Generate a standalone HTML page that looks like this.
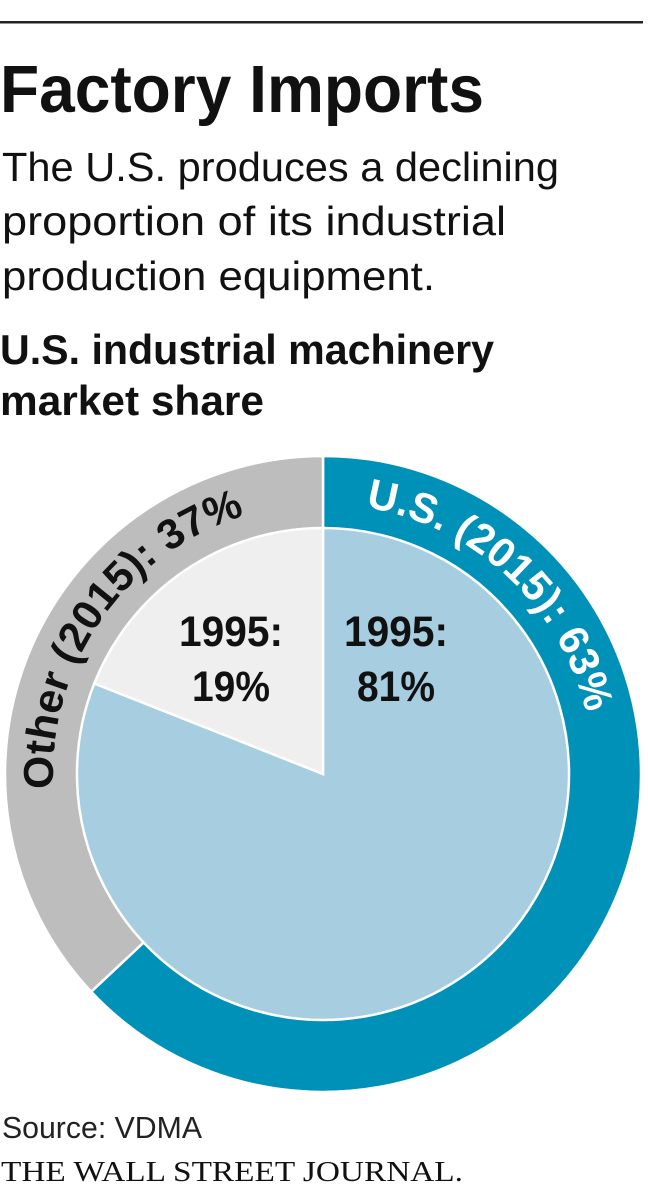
<!DOCTYPE html>
<html><head><meta charset="utf-8"><style>
html,body{margin:0;padding:0;background:#fff;}
svg{display:block;}
text{font-family:"Liberation Sans",sans-serif;}
</style></head><body>
<svg id="chart" width="648" height="1200" viewBox="0 0 648 1200">
<rect x="0" y="21" width="643" height="2.5" fill="#222"/>
<text x="0" y="112" font-size="67" font-weight="bold" fill="#111" textLength="484" lengthAdjust="spacingAndGlyphs">Factory Imports</text>
<g font-size="41" fill="#111">
<text x="2" y="181" textLength="557" lengthAdjust="spacingAndGlyphs">The U.S. produces a declining</text>
<text x="2" y="235" textLength="504" lengthAdjust="spacingAndGlyphs">proportion of its industrial</text>
<text x="2" y="290" textLength="433" lengthAdjust="spacingAndGlyphs">production equipment.</text>
</g>
<g font-size="42" font-weight="bold" fill="#111">
<text x="0" y="364" textLength="494" lengthAdjust="spacingAndGlyphs">U.S. industrial machinery</text>
<text x="0" y="415" textLength="264" lengthAdjust="spacingAndGlyphs">market share</text>
</g>
<g id="pie"></g>
<text x="2" y="1138" font-size="31" fill="#222" textLength="200" lengthAdjust="spacingAndGlyphs">Source: VDMA</text>
<text x="1" y="1181" font-size="29" fill="#111" style="font-family:'Liberation Serif',serif" textLength="462" lengthAdjust="spacingAndGlyphs">THE WALL STREET JOURNAL.</text>
</svg>
<script>
const categories = ["U.S.", "Other"];
const values2015 = [63, 37];
const values1995 = [81, 19];
const ringLabels = ["U.S. (2015): 63%", "Other (2015): 37%"];
const innerLabelsYear = ["1995:", "1995:"];
const innerLabelsValue = ["81%", "19%"];

const NS = "http://www.w3.org/2000/svg";
const cx = 323, cy = 774, rOuter = 318, rInner = 246;
const ringColors = ["#0091b9", "#bdbdbd"];
const pieColors = ["#a6cde0", "#efefef"];
const pie = document.getElementById("pie");
function pt(pct, r){ const a = pct/100*2*Math.PI; return [cx + r*Math.sin(a), cy - r*Math.cos(a)]; }
function fmt(p){ return p[0].toFixed(2)+" "+p[1].toFixed(2); }
function donutPath(p0, p1, ro, ri){
  const large = (p1-p0) > 50 ? 1 : 0;
  return "M"+fmt(pt(p0,ro))+" A"+ro+" "+ro+" 0 "+large+" 1 "+fmt(pt(p1,ro))+
    " L"+fmt(pt(p1,ri))+" A"+ri+" "+ri+" 0 "+large+" 0 "+fmt(pt(p0,ri))+" Z";
}
function wedgePath(p0, p1, r){
  const large = (p1-p0) > 50 ? 1 : 0;
  return "M"+cx+" "+cy+" L"+fmt(pt(p0,r))+" A"+r+" "+r+" 0 "+large+" 1 "+fmt(pt(p1,r))+" Z";
}
let acc = 0;
values2015.forEach((v,i)=>{
  const p = document.createElementNS(NS,"path");
  p.setAttribute("d", donutPath(acc, acc+v, rOuter, rInner-2));
  p.setAttribute("fill", ringColors[i]);
  p.setAttribute("stroke", "#fff");
  p.setAttribute("stroke-width", "2.5");
  
  
  pie.appendChild(p);
  acc += v;
});
acc = 0;
values1995.forEach((v,i)=>{
  const p = document.createElementNS(NS,"path");
  p.setAttribute("d", wedgePath(acc, acc+v, rInner));
  p.setAttribute("fill", pieColors[i]);
  p.setAttribute("stroke", "#fff");
  p.setAttribute("stroke-width", "2.5");
  
  
  pie.appendChild(p);
  acc += v;
});
const rText = 270;
acc = 0;
values2015.forEach((v,i)=>{
  const id = "arc"+i;
  const path = document.createElementNS(NS,"path");
  const large = v > 50 ? 1 : 0;
  path.setAttribute("id", id);
  path.setAttribute("d", "M"+fmt(pt(acc,rText))+" A"+rText+" "+rText+" 0 "+large+" 1 "+fmt(pt(acc+v,rText)));
  path.setAttribute("fill","none");
  pie.appendChild(path);
  const t = document.createElementNS(NS,"text");
  t.setAttribute("font-size","42");
  t.setAttribute("font-weight","bold");
  t.setAttribute("fill", i===0 ? "#fff" : "#111");
  
  
  const tp = document.createElementNS(NS,"textPath");
  tp.setAttribute("href","#"+id);
  const centerPct = i===0 ? 43/360*100 : (100 - 55/360*100);
  const off = rText*2*Math.PI*(centerPct-acc)/100;
  tp.setAttribute("startOffset", off.toFixed(1));
  tp.setAttribute("text-anchor","middle");
  tp.setAttribute("textLength", i===0 ? "320" : "360");
  tp.setAttribute("lengthAdjust","spacingAndGlyphs");
  tp.textContent = ringLabels[i];
  t.appendChild(tp);
  pie.appendChild(t);
  acc += v;
});
const innerX = [396, 231];
innerLabelsYear.forEach((y,i)=>{
  [[y,646],[innerLabelsValue[i],701]].forEach((d,j)=>{
    const t = document.createElementNS(NS,"text");
    t.setAttribute("x", innerX[i]);
    t.setAttribute("y", d[1]);
    t.setAttribute("text-anchor","middle");
    t.setAttribute("font-size","43");
    t.setAttribute("font-weight","bold");
    t.setAttribute("fill","#111");
    t.setAttribute("textLength", j===0 ? "104" : "78");
    t.setAttribute("lengthAdjust","spacingAndGlyphs");
    
    
    t.textContent = d[0];
    pie.appendChild(t);
  });
});
</script>
</body></html>
